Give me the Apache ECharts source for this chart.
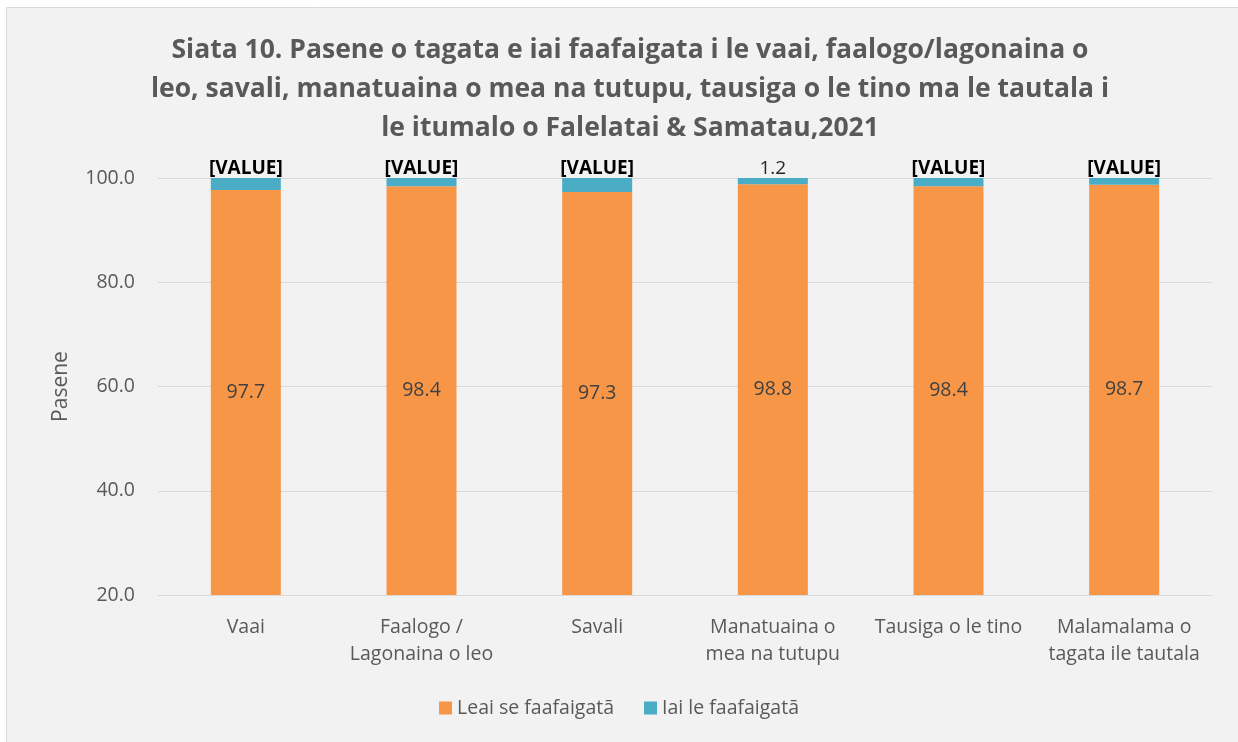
<!DOCTYPE html>
<html>
<head>
<meta charset="utf-8">
<script src="https://cdn.jsdelivr.net/npm/echarts@6/dist/echarts.min.js"></script>
<style>
  html, body { margin: 0; padding: 0; background: #ffffff; }
  #chart { width: 1238px; height: 742px; }
</style>
</head>
<body>
<div id="chart"></div>
<script>
const categories = [
  "Vaai",
  "Faalogo /\nLagonaina o leo",
  "Savali",
  "Manatuaina o\nmea na tutupu",
  "Tausiga o le tino",
  "Malamalama o\ntagata ile tautala"
];
const noDifficulty = [97.7, 98.4, 97.3, 98.8, 98.4, 98.7];
const someDifficulty = [2.3, 1.6, 2.7, 1.2, 1.6, 1.3];
// labels as they appear on the original (unfilled Excel placeholders)
const topLabels = ["[VALUE]", "[VALUE]", "[VALUE]", "1.2", "[VALUE]", "[VALUE]"];
const yTicks = [20, 40, 60, 80, 100];

const font = "'Open Sans', 'Noto Sans', sans-serif";
const chart = echarts.init(document.getElementById("chart"));

chart.setOption({
  backgroundColor: "#ffffff",
  animation: false,
  // chart area frame, as in the Excel export
  graphic: [
    {
      type: "rect",
      z: -10,
      silent: true,
      shape: { x: 6.5, y: 7.5, width: 1240, height: 740 },
      style: { fill: "#f2f2f2", stroke: "#d9d9d9", lineWidth: 1 }
    }
  ],
  title: {
    text: "Siata 10. Pasene o tagata e iai faafaigata i le vaai, faalogo/lagonaina o\nleo, savali, manatuaina o mea na tutupu, tausiga o le tino ma le tautala i\nle itumalo o Falelatai & Samatau,2021",
    left: 625,
    textAlign: "center",
    top: 26,
    textStyle: {
      fontFamily: font,
      fontSize: 26.5,
      fontWeight: "bold",
      color: "#595959",
      lineHeight: 39
    }
  },
  legend: {
    bottom: 19,
    left: "center",
    itemWidth: 13,
    itemHeight: 13,
    itemGap: 30,
    icon: "rect",
    textStyle: { fontFamily: font, fontSize: 19.5, color: "#595959" },
    data: ["Leai se faafaigatā", "Iai le faafaigatā"]
  },
  grid: { left: 158, right: 26, top: 178, bottom: 147 },
  xAxis: {
    type: "category",
    data: categories,
    axisLine: { lineStyle: { color: "#d9d9d9" } },
    axisTick: { show: false },
    axisLabel: {
      fontFamily: font,
      fontSize: 19.5,
      color: "#595959",
      lineHeight: 27,
      margin: 19,
      interval: 0
    }
  },
  yAxis: {
    type: "value",
    min: 20,
    max: 100,
    interval: 20,
    name: "Pasene",
    nameLocation: "middle",
    nameGap: 86,
    nameTextStyle: { fontFamily: font, fontSize: 21, color: "#595959" },
    axisLine: { show: false },
    axisTick: { show: false },
    splitLine: { lineStyle: { color: "#d9d9d9", width: 1 } },
    axisLabel: {
      fontFamily: font,
      fontSize: 19.5,
      color: "#595959",
      margin: 23,
      formatter: (v) => (yTicks.includes(v) ? v.toFixed(1) : "")
    }
  },
  series: [
    {
      name: "Leai se faafaigatā",
      type: "bar",
      stack: "total",
      barWidth: 70,
      data: noDifficulty,
      itemStyle: { color: "#f79646" },
      label: {
        show: true,
        position: "inside",
        fontFamily: font,
        fontSize: 19.5,
        color: "#404040",
        formatter: (p) => p.value.toFixed(1)
      }
    },
    {
      name: "Iai le faafaigatā",
      type: "bar",
      stack: "total",
      barWidth: 70,
      data: someDifficulty,
      itemStyle: { color: "#4bacc6" },
      label: {
        show: true,
        position: "top",
        distance: 0,
        fontFamily: font,
        fontSize: 19,
        color: "#000000",
        formatter: (p) => {
          const t = topLabels[p.dataIndex];
          return t.startsWith("[") ? "{b|" + t + "}" : "{n|" + t + "}";
        },
        rich: {
          b: { fontFamily: font, fontSize: 19, fontWeight: "bold", color: "#000000" },
          n: { fontFamily: font, fontSize: 19, color: "#262626" }
        }
      }
    }
  ]
});
</script>
</body>
</html>
